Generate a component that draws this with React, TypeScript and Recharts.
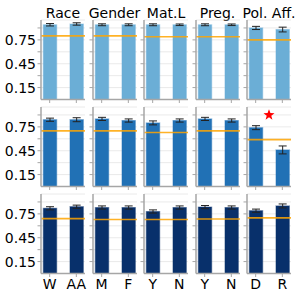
import {
  ComposedChart,
  Bar,
  XAxis,
  YAxis,
  CartesianGrid,
  ErrorBar,
  ReferenceLine,
  ReferenceDot,
} from "recharts";

// column titles and x tick labels
const GROUPS = ["Race", "Gender", "Mat.L", "Preg.", "Pol. Aff."];
const CATS = [
  ["W", "AA"],
  ["M", "F"],
  ["Y", "N"],
  ["Y", "N"],
  ["D", "R"],
];

// bar heights per row (one pair per column)
const ROW1 = [[0.94, 0.95], [0.94, 0.94], [0.94, 0.94], [0.94, 0.94], [0.9, 0.88]];
const ROW2 = [[0.84, 0.84], [0.85, 0.83], [0.8, 0.83], [0.85, 0.83], [0.74, 0.46]];
const ROW3 = [[0.82, 0.84], [0.83, 0.83], [0.78, 0.83], [0.835, 0.83], [0.79, 0.85]];

// error bar half-widths
const ERR1 = [[0.015, 0.015], [0.012, 0.012], [0.012, 0.01], [0.012, 0.01], [0.02, 0.03]];
const ERR2 = [[0.02, 0.025], [0.02, 0.02], [0.025, 0.02], [0.02, 0.02], [0.025, 0.05]];
const ERR3 = [[0.02, 0.02], [0.02, 0.02], [0.02, 0.02], [0.02, 0.02], [0.02, 0.025]];

// orange reference level per panel
const REF1 = [0.8, 0.8, 0.79, 0.79, 0.75];
const REF2 = [0.7, 0.7, 0.68, 0.7, 0.59];
const REF3 = [0.69, 0.68, 0.68, 0.685, 0.7];

// significance star: row, col, y
const STARS = [{ row: 1, col: 4, y: 0.9 }];

const Y_TICKS = [0.15, 0.3, 0.45, 0.6, 0.75, 0.9];
const Y_LABELED = [0.15, 0.45, 0.75];

const ROW_COLORS = ["#6baed6", "#2171b5", "#08306b"];
const ROWS = [ROW1, ROW2, ROW3];
const ERRS = [ERR1, ERR2, ERR3];
const REFS = [REF1, REF2, REF3];

// layout of the plot areas
const COL_LEFT = [41, 92.5, 144, 195.5, 247];
const ROW_TOP = [20, 106.7, 194];
const PLOT_W = 44;
const PLOT_H = 79.5;
const SPINE = "#a6a6a6";

function starShape(props: any) {
  const { cx, cy } = props;
  const R = 5.8;
  const r = 2.4;
  const pts: string[] = [];
  for (let i = 0; i < 10; i++) {
    const rad = i % 2 === 0 ? R : r;
    const a = -Math.PI / 2 + (i * Math.PI) / 5;
    pts.push(`${cx + rad * Math.cos(a)},${cy + rad * Math.sin(a)}`);
  }
  return <polygon points={pts.join(" ")} fill="#ff0000" />;
}

function Panel({ row, col }: { row: number; col: number }) {
  const yw = col === 0 ? 41 : 6;
  const xh = row === 2 ? 24 : 6;
  const top = 2;
  const right = 2;
  const data = ROWS[row][col].map((v, i) => ({ x: i, v, e: ERRS[row][col][i] }));
  const color = ROW_COLORS[row];
  const star = STARS.find((s) => s.row === row && s.col === col);
  const barPx = (0.5 / 1.65) * PLOT_W;

  return (
    <div
      style={{
        position: "absolute",
        left: COL_LEFT[col] - yw,
        top: ROW_TOP[row] - top,
      }}
    >
      <ComposedChart
        width={yw + PLOT_W + right}
        height={top + PLOT_H + xh}
        data={data}
        margin={{ top, right, bottom: 0, left: 0 }}
      >
        <XAxis
          type="number"
          dataKey="x"
          domain={[-0.325, 1.325]}
          ticks={[0, 1]}
          interval={0}
          allowDataOverflow
          height={xh}
          tickSize={3.5}
          tickMargin={2}
          axisLine={{ stroke: SPINE, strokeWidth: 1.5 }}
          tickLine={{ stroke: SPINE }}
          tick={{ fill: "#000", fontSize: 14 }}
          tickFormatter={(i: number) => (row === 2 ? CATS[col][i] : "")}
        />
        <XAxis
          xAxisId="top"
          orientation="top"
          type="number"
          domain={[-0.325, 1.325]}
          ticks={[]}
          height={0}
          tick={false}
          tickLine={false}
          axisLine={{ stroke: SPINE, strokeWidth: 1.5 }}
        />
        <YAxis
          type="number"
          domain={[0, 1]}
          ticks={Y_TICKS}
          interval={0}
          allowDataOverflow
          width={yw}
          tickSize={3.5}
          tickMargin={1.5}
          axisLine={{ stroke: SPINE, strokeWidth: 1.5 }}
          tickLine={{ stroke: SPINE }}
          tick={{ fill: "#000", fontSize: 14 }}
          tickFormatter={(v: number) =>
            col === 0 && Y_LABELED.includes(v) ? v.toFixed(2) : ""
          }
        />
        <YAxis
          yAxisId="right"
          orientation="right"
          type="number"
          domain={[0, 1]}
          ticks={[]}
          width={0}
          tick={false}
          tickLine={false}
          axisLine={{ stroke: SPINE, strokeWidth: 1.5 }}
        />
        <Bar
          dataKey="v"
          fill={color}
          stroke={color}
          strokeOpacity={0.45}
          strokeWidth={1.2}
          barSize={barPx}
          isAnimationActive={false}
        >
          <ErrorBar dataKey="e" width={4} stroke="#222" strokeWidth={1} direction="y" />
        </Bar>
        <CartesianGrid
          vertical={false}
          stroke="#dcdcdc"
          strokeOpacity={0.6}
          strokeWidth={1}
        />
        <ReferenceLine
          y={REFS[row][col]}
          stroke="#ffa500"
          strokeOpacity={0.85}
          strokeWidth={1.6}
        />
        {star && (
          <ReferenceDot x={0.5} y={star.y} r={6} shape={starShape} />
        )}
      </ComposedChart>
    </div>
  );
}

export default function App() {
  return (
    <div
      style={{
        position: "absolute",
        left: 0,
        top: 0,
        width: 297,
        height: 297,
        background: "#fff",
        fontFamily: "'DejaVu Sans', sans-serif",
      }}
    >
      {GROUPS.map((g, c) => (
        <div
          key={g}
          style={{
            position: "absolute",
            left: COL_LEFT[c] + PLOT_W / 2 - 40,
            width: 80,
            top: 4.5,
            lineHeight: "16px",
            fontSize: 14,
            textAlign: "center",
            whiteSpace: "nowrap",
            color: "#000",
          }}
        >
          {g}
        </div>
      ))}
      {[0, 1, 2].map((r) =>
        GROUPS.map((g, c) => <Panel key={`${r}-${c}`} row={r} col={c} />)
      )}
    </div>
  );
}
